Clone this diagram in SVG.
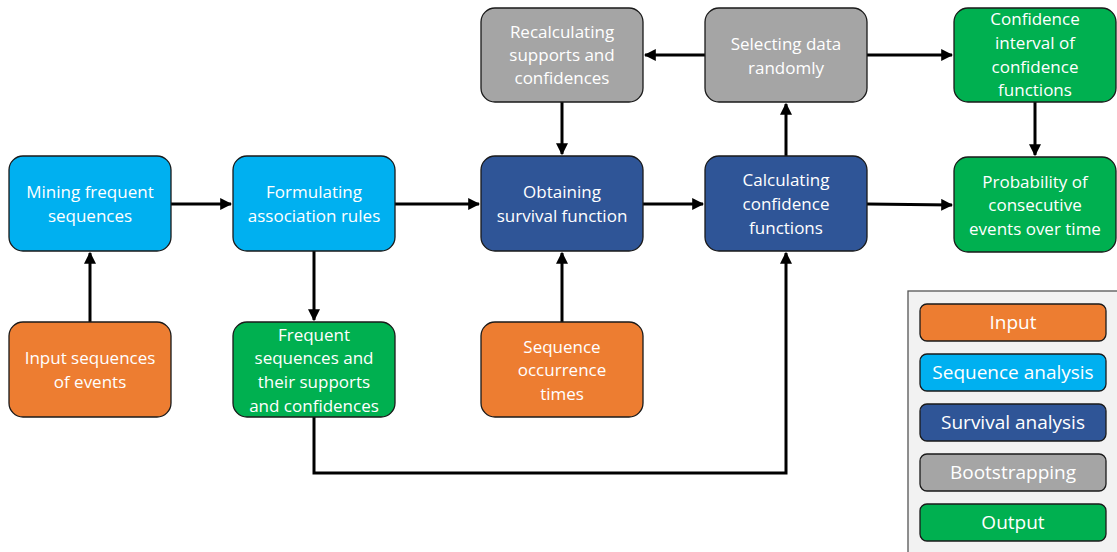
<svg xmlns="http://www.w3.org/2000/svg" width="1117" height="552" viewBox="0 0 1117 552">
<defs>
<marker id="ah" viewBox="0 0 10 10" refX="9" refY="5" markerWidth="4" markerHeight="4" orient="auto" markerUnits="strokeWidth">
<path d="M0,0 L10,5 L0,10 z" fill="#000"/>
</marker>
<style>
.n rect{stroke:#1a1a1a;stroke-width:1.3}
.in{fill:#ED7D31}.sq{fill:#00B0F0}.sv{fill:#2F5597}.bs{fill:#A5A5A5}.out{fill:#00B050}
text{font-family:"Open Sans","Noto Sans",sans-serif;font-size:17px;fill:#fff;text-anchor:middle}
.lg{font-size:19px}
.c{fill:none;stroke:#000;stroke-width:3;marker-end:url(#ah)}
</style>
</defs>
<rect width="1117" height="552" fill="#fff"/>

<g id="legend">
<rect x="908" y="291" width="215" height="270" fill="#f2f2f2" stroke="#555" stroke-width="1.3"/>
<g class="n"><rect class="in" x="920" y="304" width="186" height="37" rx="7"/><rect class="sq" x="920" y="354" width="186" height="37" rx="7"/><rect class="sv" x="920" y="404" width="186" height="37" rx="7"/><rect class="bs" x="920" y="454" width="186" height="37" rx="7"/><rect class="out" x="920" y="504" width="186" height="37" rx="7"/></g>
<text class="lg" x="1013" y="329">Input</text>
<text class="lg" x="1013" y="379">Sequence analysis</text>
<text class="lg" x="1013" y="429">Survival analysis</text>
<text class="lg" x="1013" y="479">Bootstrapping</text>
<text class="lg" x="1013" y="529">Output</text>
</g>

<g id="connectors">
<path class="c" d="M171,204 H231"/>
<path class="c" d="M395,204 H479"/>
<path class="c" d="M643,204 H703"/>
<path class="c" d="M867,204 L952,205"/>
<path class="c" d="M90,322 V253"/>
<path class="c" d="M314,251 V320"/>
<path class="c" d="M562,322 V253"/>
<path class="c" d="M562,102 V154"/>
<path class="c" d="M786,156 V104"/>
<path class="c" d="M705,55 H645"/>
<path class="c" d="M867,55 H952"/>
<path class="c" d="M1035,102 V155"/>
<path class="c" d="M314,417 V473 H786 V253"/>
</g>

<g id="recalc" class="n"><rect class="bs" x="481" y="8" width="162" height="94" rx="14"/>
<text x="562" y="38">Recalculating</text><text x="562" y="61">supports and</text><text x="562" y="84">confidences</text></g>

<g id="select" class="n"><rect class="bs" x="705" y="8" width="162" height="94" rx="14"/>
<text x="786" y="50">Selecting data</text><text x="786" y="74">randomly</text></g>

<g id="ci" class="n"><rect class="out" x="954" y="8" width="162" height="94" rx="14"/>
<text x="1035" y="25">Confidence</text><text x="1035" y="49">interval of</text><text x="1035" y="73">confidence</text><text x="1035" y="96">functions</text></g>

<g id="mining" class="n"><rect class="sq" x="9" y="156" width="162" height="95" rx="14"/>
<text x="90" y="198">Mining frequent</text><text x="90" y="222">sequences</text></g>

<g id="formulating" class="n"><rect class="sq" x="233" y="156" width="162" height="95" rx="14"/>
<text x="314" y="198">Formulating</text><text x="314" y="222">association rules</text></g>

<g id="obtaining" class="n"><rect class="sv" x="481" y="156" width="162" height="95" rx="14"/>
<text x="562" y="198">Obtaining</text><text x="562" y="222">survival function</text></g>

<g id="calculating" class="n"><rect class="sv" x="705" y="156" width="162" height="95" rx="14"/>
<text x="786" y="186">Calculating</text><text x="786" y="210">confidence</text><text x="786" y="234">functions</text></g>

<g id="probability" class="n"><rect class="out" x="954" y="157" width="162" height="95" rx="14"/>
<text x="1035" y="188">Probability of</text><text x="1035" y="211">consecutive</text><text x="1035" y="235">events over time</text></g>

<g id="inputseq" class="n"><rect class="in" x="9" y="322" width="162" height="95" rx="14"/>
<text x="90" y="364">Input sequences</text><text x="90" y="388">of events</text></g>

<g id="frequent" class="n"><rect class="out" x="233" y="322" width="162" height="95" rx="14"/>
<text x="314" y="341">Frequent</text><text x="314" y="364">sequences and</text><text x="314" y="388">their supports</text><text x="314" y="412">and confidences</text></g>

<g id="occurrence" class="n"><rect class="in" x="481" y="322" width="162" height="95" rx="14"/>
<text x="562" y="353">Sequence</text><text x="562" y="376">occurrence</text><text x="562" y="400">times</text></g>
</svg>
